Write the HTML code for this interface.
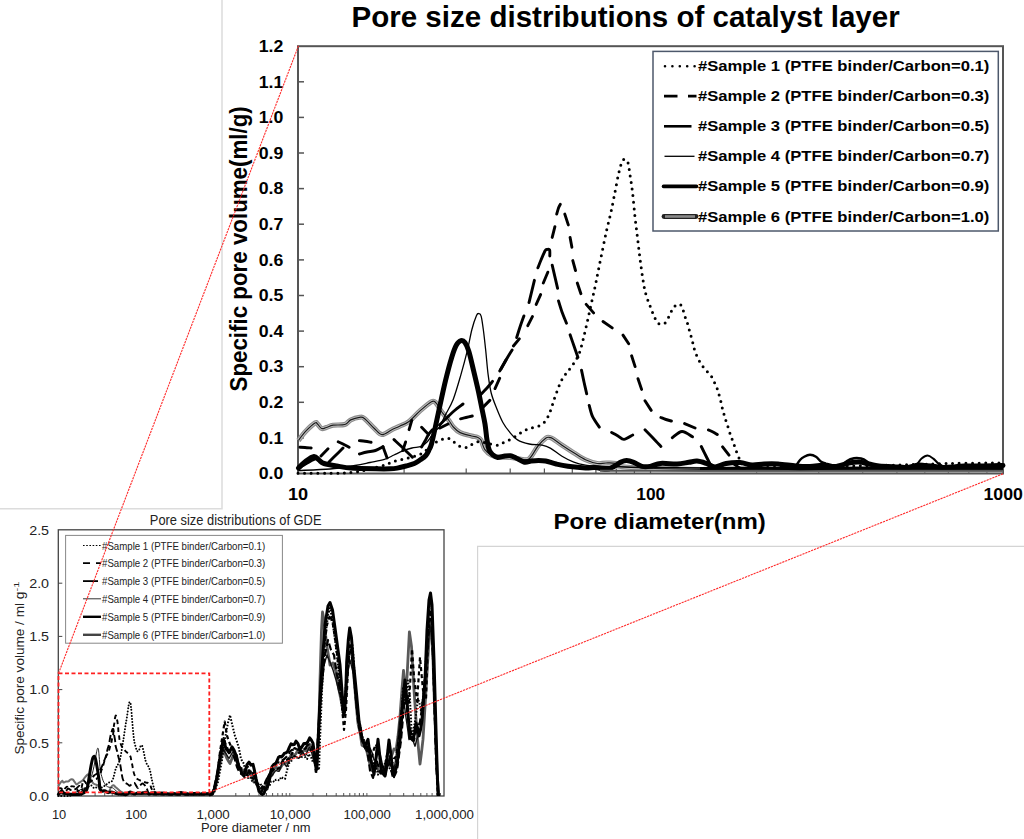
<!DOCTYPE html>
<html><head><meta charset="utf-8"><style>
html,body{margin:0;padding:0;background:#fff;}
svg{display:block;font-family:"Liberation Sans", sans-serif;}
</style></head><body>
<svg width="1024" height="839" viewBox="0 0 1024 839">
<rect width="1024" height="839" fill="#fff"/>
<path d="M222 0 V508.7 H0" stroke="#dcdcdc" stroke-width="1.5" fill="none"/>
<path d="M477.6 839 V546.4 H1024" stroke="#d4d4d4" stroke-width="1.2" fill="none"/>
<text x="351.5" y="26.6" font-size="29.5" font-weight="bold" textLength="548.2" lengthAdjust="spacingAndGlyphs" id="t_title">Pore size distributions of catalyst layer</text>
<rect x="298" y="46.2" width="705" height="427.3" fill="none" stroke="#555" stroke-width="2"/>
<text x="258.7" y="479.2" font-size="16.5" font-weight="bold" textLength="24.6" lengthAdjust="spacingAndGlyphs" >0.0</text>
<path d="M298 437.9 h6" stroke="#555" stroke-width="1.5"/>
<text x="258.7" y="443.6" font-size="16.5" font-weight="bold" textLength="24.6" lengthAdjust="spacingAndGlyphs" >0.1</text>
<path d="M298 402.3 h6" stroke="#555" stroke-width="1.5"/>
<text x="258.7" y="408.0" font-size="16.5" font-weight="bold" textLength="24.6" lengthAdjust="spacingAndGlyphs" >0.2</text>
<path d="M298 366.7 h6" stroke="#555" stroke-width="1.5"/>
<text x="258.7" y="372.4" font-size="16.5" font-weight="bold" textLength="24.6" lengthAdjust="spacingAndGlyphs" >0.3</text>
<path d="M298 331.1 h6" stroke="#555" stroke-width="1.5"/>
<text x="258.7" y="336.8" font-size="16.5" font-weight="bold" textLength="24.6" lengthAdjust="spacingAndGlyphs" >0.4</text>
<path d="M298 295.5 h6" stroke="#555" stroke-width="1.5"/>
<text x="258.7" y="301.2" font-size="16.5" font-weight="bold" textLength="24.6" lengthAdjust="spacingAndGlyphs" >0.5</text>
<path d="M298 259.9 h6" stroke="#555" stroke-width="1.5"/>
<text x="258.7" y="265.6" font-size="16.5" font-weight="bold" textLength="24.6" lengthAdjust="spacingAndGlyphs" >0.6</text>
<path d="M298 224.2 h6" stroke="#555" stroke-width="1.5"/>
<text x="258.7" y="229.9" font-size="16.5" font-weight="bold" textLength="24.6" lengthAdjust="spacingAndGlyphs" >0.7</text>
<path d="M298 188.6 h6" stroke="#555" stroke-width="1.5"/>
<text x="258.7" y="194.3" font-size="16.5" font-weight="bold" textLength="24.6" lengthAdjust="spacingAndGlyphs" >0.8</text>
<path d="M298 153.0 h6" stroke="#555" stroke-width="1.5"/>
<text x="258.7" y="158.7" font-size="16.5" font-weight="bold" textLength="24.6" lengthAdjust="spacingAndGlyphs" >0.9</text>
<path d="M298 117.4 h6" stroke="#555" stroke-width="1.5"/>
<text x="258.7" y="123.1" font-size="16.5" font-weight="bold" textLength="24.6" lengthAdjust="spacingAndGlyphs" >1.0</text>
<path d="M298 81.8 h6" stroke="#555" stroke-width="1.5"/>
<text x="258.7" y="87.5" font-size="16.5" font-weight="bold" textLength="24.6" lengthAdjust="spacingAndGlyphs" >1.1</text>
<text x="258.7" y="51.9" font-size="16.5" font-weight="bold" textLength="24.6" lengthAdjust="spacingAndGlyphs" >1.2</text>
<path d="M404.1 473.5 v-5" stroke="#555" stroke-width="1.2"/>
<path d="M466.2 473.5 v-5" stroke="#555" stroke-width="1.2"/>
<path d="M510.2 473.5 v-5" stroke="#555" stroke-width="1.2"/>
<path d="M544.4 473.5 v-5" stroke="#555" stroke-width="1.2"/>
<path d="M572.3 473.5 v-5" stroke="#555" stroke-width="1.2"/>
<path d="M595.9 473.5 v-5" stroke="#555" stroke-width="1.2"/>
<path d="M616.3 473.5 v-5" stroke="#555" stroke-width="1.2"/>
<path d="M634.4 473.5 v-5" stroke="#555" stroke-width="1.2"/>
<path d="M650.5 473.5 v-5" stroke="#555" stroke-width="1.2"/>
<path d="M756.6 473.5 v-5" stroke="#555" stroke-width="1.2"/>
<path d="M818.7 473.5 v-5" stroke="#555" stroke-width="1.2"/>
<path d="M862.7 473.5 v-5" stroke="#555" stroke-width="1.2"/>
<path d="M896.9 473.5 v-5" stroke="#555" stroke-width="1.2"/>
<path d="M924.8 473.5 v-5" stroke="#555" stroke-width="1.2"/>
<path d="M948.4 473.5 v-5" stroke="#555" stroke-width="1.2"/>
<path d="M968.8 473.5 v-5" stroke="#555" stroke-width="1.2"/>
<path d="M986.9 473.5 v-5" stroke="#555" stroke-width="1.2"/>
<text x="288.0" y="499.6" font-size="16.5" font-weight="bold" textLength="20.2" lengthAdjust="spacingAndGlyphs" >10</text>
<text x="636.3" y="499.6" font-size="16.5" font-weight="bold" textLength="28.9" lengthAdjust="spacingAndGlyphs" >100</text>
<text x="983.5" y="499.6" font-size="16.5" font-weight="bold" textLength="39.4" lengthAdjust="spacingAndGlyphs" >1000</text>
<text x="553.5" y="529.4" font-size="22.7" font-weight="bold" textLength="212.3" lengthAdjust="spacingAndGlyphs" id="t_xl">Pore diameter(nm)</text>
<g transform="translate(247.4 0) rotate(-90)"><text x="-391.5" y="0.0" font-size="24.0" font-weight="bold" textLength="285.3" lengthAdjust="spacingAndGlyphs" id="t_yl">Specific pore volume(ml/g)</text></g>
<path d="M298.40 440.50 C299.63 438.95 303.03 434.12 305.80 431.20 C308.57 428.28 313.05 424.20 315.00 423.00 C316.95 421.80 316.40 423.08 317.50 424.00 C318.60 424.92 320.13 427.92 321.60 428.50 C323.07 429.08 324.38 428.05 326.30 427.50 C328.22 426.95 330.02 425.70 333.10 425.20 C336.18 424.70 341.87 425.38 344.80 424.50 C347.73 423.62 348.25 421.10 350.70 419.90 C353.15 418.70 357.22 417.55 359.50 417.30 C361.78 417.05 361.97 416.58 364.40 418.40 C366.83 420.22 371.18 425.50 374.10 428.20 C377.02 430.90 379.02 434.30 381.90 434.60 C384.78 434.90 388.38 431.43 391.40 430.00 C394.42 428.57 397.13 427.37 400.00 426.00 C402.87 424.63 405.27 424.32 408.60 421.80 C411.93 419.28 416.18 414.25 420.00 410.90 C423.82 407.55 428.83 403.03 431.50 401.70 C434.17 400.37 434.28 401.18 436.00 402.90 C437.72 404.62 439.70 409.15 441.80 412.00 C443.90 414.85 446.68 417.50 448.60 420.00 C450.52 422.50 451.38 424.90 453.30 427.00 C455.22 429.10 457.07 431.10 460.10 432.60 C463.13 434.10 468.63 435.23 471.50 436.00 C474.37 436.77 475.72 436.53 477.30 437.20 C478.88 437.87 479.77 437.98 481.00 440.00 C482.23 442.02 482.92 446.77 484.70 449.30 C486.48 451.83 489.15 453.92 491.70 455.20 C494.25 456.48 496.78 456.62 500.00 457.00 C503.22 457.38 507.67 457.17 511.00 457.50 C514.33 457.83 516.97 458.80 520.00 459.00 C523.03 459.20 526.20 460.87 529.20 458.70 C532.20 456.53 535.20 449.45 538.00 446.00 C540.80 442.55 544.00 439.40 546.00 438.00 C548.00 436.60 548.83 437.47 550.00 437.60 C551.17 437.73 551.00 437.53 553.00 438.80 C555.00 440.07 558.53 442.87 562.00 445.20 C565.47 447.53 569.88 450.37 573.80 452.80 C577.72 455.23 581.60 458.02 585.50 459.80 C589.40 461.58 593.78 462.97 597.20 463.50 C600.62 464.03 602.87 463.02 606.00 463.00 C609.13 462.98 612.83 462.73 616.00 463.40 C619.17 464.07 611.00 465.98 625.00 467.00 C639.00 468.02 670.83 469.00 700.00 469.50 C729.17 470.00 749.50 469.92 800.00 470.00 C850.50 470.08 969.17 470.00 1003.00 470.00" stroke="#8c8c8c" stroke-width="5.0" fill="none" stroke-linejoin="round"/>
<path d="M298.40 440.50 C299.63 438.95 303.03 434.12 305.80 431.20 C308.57 428.28 313.05 424.20 315.00 423.00 C316.95 421.80 316.40 423.08 317.50 424.00 C318.60 424.92 320.13 427.92 321.60 428.50 C323.07 429.08 324.38 428.05 326.30 427.50 C328.22 426.95 330.02 425.70 333.10 425.20 C336.18 424.70 341.87 425.38 344.80 424.50 C347.73 423.62 348.25 421.10 350.70 419.90 C353.15 418.70 357.22 417.55 359.50 417.30 C361.78 417.05 361.97 416.58 364.40 418.40 C366.83 420.22 371.18 425.50 374.10 428.20 C377.02 430.90 379.02 434.30 381.90 434.60 C384.78 434.90 388.38 431.43 391.40 430.00 C394.42 428.57 397.13 427.37 400.00 426.00 C402.87 424.63 405.27 424.32 408.60 421.80 C411.93 419.28 416.18 414.25 420.00 410.90 C423.82 407.55 428.83 403.03 431.50 401.70 C434.17 400.37 434.28 401.18 436.00 402.90 C437.72 404.62 439.70 409.15 441.80 412.00 C443.90 414.85 446.68 417.50 448.60 420.00 C450.52 422.50 451.38 424.90 453.30 427.00 C455.22 429.10 457.07 431.10 460.10 432.60 C463.13 434.10 468.63 435.23 471.50 436.00 C474.37 436.77 475.72 436.53 477.30 437.20 C478.88 437.87 479.77 437.98 481.00 440.00 C482.23 442.02 482.92 446.77 484.70 449.30 C486.48 451.83 489.15 453.92 491.70 455.20 C494.25 456.48 496.78 456.62 500.00 457.00 C503.22 457.38 507.67 457.17 511.00 457.50 C514.33 457.83 516.97 458.80 520.00 459.00 C523.03 459.20 526.20 460.87 529.20 458.70 C532.20 456.53 535.20 449.45 538.00 446.00 C540.80 442.55 544.00 439.40 546.00 438.00 C548.00 436.60 548.83 437.47 550.00 437.60 C551.17 437.73 551.00 437.53 553.00 438.80 C555.00 440.07 558.53 442.87 562.00 445.20 C565.47 447.53 569.88 450.37 573.80 452.80 C577.72 455.23 581.60 458.02 585.50 459.80 C589.40 461.58 593.78 462.97 597.20 463.50 C600.62 464.03 602.87 463.02 606.00 463.00 C609.13 462.98 612.83 462.73 616.00 463.40 C619.17 464.07 611.00 465.98 625.00 467.00 C639.00 468.02 670.83 469.00 700.00 469.50 C729.17 470.00 749.50 469.92 800.00 470.00 C850.50 470.08 969.17 470.00 1003.00 470.00" stroke="#c4c4c4" stroke-width="2.8" fill="none" stroke-linejoin="round"/>
<path d="M298.40 440.50 C299.63 438.95 303.03 434.12 305.80 431.20 C308.57 428.28 313.05 424.20 315.00 423.00 C316.95 421.80 316.40 423.08 317.50 424.00 C318.60 424.92 320.13 427.92 321.60 428.50 C323.07 429.08 324.38 428.05 326.30 427.50 C328.22 426.95 330.02 425.70 333.10 425.20 C336.18 424.70 341.87 425.38 344.80 424.50 C347.73 423.62 348.25 421.10 350.70 419.90 C353.15 418.70 357.22 417.55 359.50 417.30 C361.78 417.05 361.97 416.58 364.40 418.40 C366.83 420.22 371.18 425.50 374.10 428.20 C377.02 430.90 379.02 434.30 381.90 434.60 C384.78 434.90 388.38 431.43 391.40 430.00 C394.42 428.57 397.13 427.37 400.00 426.00 C402.87 424.63 405.27 424.32 408.60 421.80 C411.93 419.28 416.18 414.25 420.00 410.90 C423.82 407.55 428.83 403.03 431.50 401.70 C434.17 400.37 434.28 401.18 436.00 402.90 C437.72 404.62 439.70 409.15 441.80 412.00 C443.90 414.85 446.68 417.50 448.60 420.00 C450.52 422.50 451.38 424.90 453.30 427.00 C455.22 429.10 457.07 431.10 460.10 432.60 C463.13 434.10 468.63 435.23 471.50 436.00 C474.37 436.77 475.72 436.53 477.30 437.20 C478.88 437.87 479.77 437.98 481.00 440.00 C482.23 442.02 482.92 446.77 484.70 449.30 C486.48 451.83 489.15 453.92 491.70 455.20 C494.25 456.48 496.78 456.62 500.00 457.00 C503.22 457.38 507.67 457.17 511.00 457.50 C514.33 457.83 516.97 458.80 520.00 459.00 C523.03 459.20 526.20 460.87 529.20 458.70 C532.20 456.53 535.20 449.45 538.00 446.00 C540.80 442.55 544.00 439.40 546.00 438.00 C548.00 436.60 548.83 437.47 550.00 437.60 C551.17 437.73 551.00 437.53 553.00 438.80 C555.00 440.07 558.53 442.87 562.00 445.20 C565.47 447.53 569.88 450.37 573.80 452.80 C577.72 455.23 581.60 458.02 585.50 459.80 C589.40 461.58 593.78 462.97 597.20 463.50 C600.62 464.03 602.87 463.02 606.00 463.00 C609.13 462.98 612.83 462.73 616.00 463.40 C619.17 464.07 611.00 465.98 625.00 467.00 C639.00 468.02 670.83 469.00 700.00 469.50 C729.17 470.00 749.50 469.92 800.00 470.00 C850.50 470.08 969.17 470.00 1003.00 470.00" stroke="#1a1a1a" stroke-width="1.2" fill="none" stroke-linejoin="round"/>
<path d="M298.60 470.50 C303.83 470.25 320.60 469.83 330.00 469.00 C339.40 468.17 348.33 466.58 355.00 465.50 C361.67 464.42 365.10 463.52 370.00 462.50 C374.90 461.48 380.40 460.65 384.40 459.40 C388.40 458.15 390.92 456.42 394.00 455.00 C397.08 453.58 399.90 452.07 402.90 450.90 C405.90 449.73 408.95 448.75 412.00 448.00 C415.05 447.25 418.70 447.40 421.20 446.40 C423.70 445.40 425.28 443.73 427.00 442.00 C428.72 440.27 430.00 438.00 431.50 436.00 C433.00 434.00 434.70 431.48 436.00 430.00 C437.30 428.52 437.72 429.65 439.30 427.10 C440.88 424.55 443.17 419.35 445.50 414.70 C447.83 410.05 450.72 405.92 453.30 399.20 C455.88 392.48 458.68 382.40 461.00 374.40 C463.32 366.40 465.38 358.68 467.20 351.20 C469.02 343.72 470.35 335.45 471.90 329.50 C473.45 323.55 475.35 318.15 476.50 315.50 C477.65 312.85 478.02 313.47 478.80 313.60 C479.58 313.73 480.42 313.40 481.20 316.30 C481.98 319.20 482.73 325.18 483.50 331.00 C484.27 336.82 485.03 343.97 485.80 351.20 C486.57 358.43 487.20 367.43 488.10 374.40 C489.00 381.37 489.77 387.32 491.20 393.00 C492.63 398.68 494.75 403.58 496.70 408.50 C498.65 413.42 500.80 418.63 502.90 422.50 C505.00 426.37 506.87 428.80 509.30 431.70 C511.73 434.60 514.18 437.85 517.50 439.90 C520.82 441.95 525.10 443.12 529.20 444.00 C533.30 444.88 538.58 444.52 542.10 445.20 C545.62 445.88 546.98 446.25 550.30 448.10 C553.62 449.95 558.08 453.95 562.00 456.30 C565.92 458.65 569.88 460.73 573.80 462.20 C577.72 463.67 581.13 464.42 585.50 465.10 C589.87 465.78 589.25 465.90 600.00 466.30 C610.75 466.70 633.33 467.22 650.00 467.50 C666.67 467.78 683.33 467.75 700.00 468.00 C716.67 468.25 699.50 468.83 750.00 469.00 C800.50 469.17 960.83 469.00 1003.00 469.00" stroke="#000" stroke-width="1.3" fill="none" stroke-linejoin="round"/>
<path d="M298.50 468.00 C299.42 467.50 302.08 466.08 304.00 465.00 C305.92 463.92 308.17 462.50 310.00 461.50 C311.83 460.50 314.17 459.42 315.00 459.00 M329.00 462.00 C330.17 460.83 333.67 457.33 336.00 455.00 C338.33 452.67 341.83 449.17 343.00 448.00 M359.40 454.00 C360.67 453.67 364.32 452.58 367.00 452.00 C369.68 451.42 372.83 451.38 375.50 450.50 C378.17 449.62 381.75 447.33 383.00 446.70 M394.00 439.60 C395.50 441.00 399.93 445.05 403.00 448.00 C406.07 450.95 410.83 455.75 412.40 457.30 M421.60 447.00 C422.17 446.00 423.83 443.10 425.00 441.00 C426.17 438.90 427.35 436.28 428.60 434.40 C429.85 432.52 431.85 430.48 432.50 429.70 M439.50 425.00 C440.55 423.97 443.38 421.13 445.80 418.80 C448.22 416.47 451.13 413.47 454.00 411.00 C456.87 408.53 461.50 405.17 463.00 404.00 M480.00 395.20 C481.17 394.00 484.92 390.30 487.00 388.00 C489.08 385.70 491.58 382.50 492.50 381.40 M499.70 371.00 C500.75 369.17 503.93 363.50 506.00 360.00 C508.07 356.50 511.08 351.67 512.10 350.00 M516.70 337.50 C517.25 335.75 518.80 330.60 520.00 327.00 C521.20 323.40 523.25 317.75 523.90 315.90 M529.0 302.6 L534.4 280.3 M537.90 267.80 C538.42 266.50 539.80 262.83 541.00 260.00 C542.20 257.17 544.10 252.55 545.10 250.80 C546.10 249.05 546.25 249.65 547.00 249.50 C547.75 249.35 549.13 248.82 549.60 249.90 C550.07 250.98 549.77 254.98 549.80 256.00 M552.2 265.1 L557.6 288.3 M558.50 300.90 C559.08 302.75 560.67 308.28 562.00 312.00 C563.33 315.72 565.75 321.33 566.50 323.20 M570.10 334.80 C570.75 336.67 572.70 342.25 574.00 346.00 C575.30 349.75 577.25 355.42 577.90 357.30 M581.50 370.10 C581.92 372.08 583.13 378.05 584.00 382.00 C584.87 385.95 586.25 391.83 586.70 393.80 M589.20 405.40 C589.77 407.28 590.92 413.08 592.60 416.70 C594.28 420.32 598.18 425.37 599.30 427.10 M611.60 432.40 C612.67 433.00 615.93 434.83 618.00 436.00 C620.07 437.17 621.55 439.57 624.00 439.40 C626.45 439.23 631.25 435.73 632.70 435.00 M645.00 429.80 C646.33 431.17 650.35 435.22 653.00 438.00 C655.65 440.78 659.58 445.08 660.90 446.50 M672.30 437.70 C673.92 436.67 678.63 431.65 682.00 431.50 C685.37 431.35 690.75 435.92 692.50 436.80 M701.30 446.50 C702.08 448.08 704.38 452.78 706.00 456.00 C707.62 459.22 710.17 464.17 711.00 465.80" stroke="#000" stroke-width="2.9" fill="none" stroke-linecap="round" stroke-linejoin="round"/>
<path d="M299.90 447.30 C300.75 447.33 303.12 447.38 305.00 447.50 C306.88 447.62 310.17 447.92 311.20 448.00 M321.0 455.9 L328.0 448.8 M338.20 441.80 C339.00 442.17 341.18 443.08 343.00 444.00 C344.82 444.92 348.08 446.75 349.10 447.30 M359.40 440.60 C360.33 440.72 363.05 441.02 365.00 441.30 C366.95 441.58 370.08 442.13 371.10 442.30 M383.0 446.7 L387.1 458.0 M402.8 450.5 L405.6 442.0 M409.1 429.7 L411.8 420.3 M421.6 427.3 L428.6 434.4 M440.0 428.0 L448.0 424.0 M460.60 418.80 C461.50 418.58 464.05 417.97 466.00 417.50 C467.95 417.03 471.25 416.25 472.30 416.00 M482.6 407.6 L489.8 400.4 M495.0 388.6 L499.7 378.2 M501.0 369.0 L506.0 360.0 M513.4 346.0 L519.3 338.8 M527.8 325.7 L532.4 316.6 M536.2 304.4 L540.6 294.6 M543.3 283.0 L547.8 272.2 M552.2 237.4 L554.9 226.7 M556.70 214.10 C557.00 213.08 557.90 209.63 558.50 208.00 C559.10 206.37 560.00 204.92 560.30 204.30 M564.8 214.1 L568.3 224.9 M570.1 237.4 L571.9 247.2 M572.8 260.6 L575.5 270.5 M577.3 283.0 L580.9 293.7 M586.2 304.4 L593.6 312.9 M603.0 321.5 L612.2 327.9 M623.0 335.1 L628.7 343.7 M631.6 355.8 L635.1 366.6 M638.0 378.7 L641.6 389.4 M645.0 400.8 L651.2 410.4 M660.90 417.50 C661.75 417.83 664.25 418.92 666.00 419.50 C667.75 420.08 670.50 420.75 671.40 421.00 M684.6 423.6 L695.1 428.0 M708.40 429.90 C709.17 430.25 711.52 431.22 713.00 432.00 C714.48 432.78 716.58 434.17 717.30 434.60 M722.6 446.9 L729.0 455.1 M734.00 464.00 C735.00 464.67 738.17 467.25 740.00 468.00 C741.83 468.75 744.17 468.42 745.00 468.50" stroke="#000" stroke-width="2.9" fill="none" stroke-linecap="round" stroke-linejoin="round"/>
<path d="M298.00 473.30 C303.33 473.30 321.00 473.43 330.00 473.30 C339.00 473.17 346.00 473.05 352.00 472.50 C358.00 471.95 362.00 470.83 366.00 470.00 C370.00 469.17 372.83 468.33 376.00 467.50 C379.17 466.67 382.45 465.83 385.00 465.00 C387.55 464.17 389.13 463.28 391.30 462.50 C393.47 461.72 395.68 460.92 398.00 460.30 C400.32 459.68 402.87 459.40 405.20 458.80 C407.53 458.20 409.70 457.33 412.00 456.70 C414.30 456.07 416.90 455.87 419.00 455.00 C421.10 454.13 422.77 452.83 424.60 451.50 C426.43 450.17 428.28 448.43 430.00 447.00 C431.72 445.57 432.93 444.15 434.90 442.90 C436.87 441.65 439.52 440.25 441.80 439.50 C444.08 438.75 446.50 437.92 448.60 438.40 C450.70 438.88 452.48 441.07 454.40 442.40 C456.32 443.73 458.00 445.55 460.10 446.40 C462.20 447.25 464.90 447.88 467.00 447.50 C469.10 447.12 470.53 445.10 472.70 444.10 C474.87 443.10 477.45 441.60 480.00 441.50 C482.55 441.40 485.07 442.88 488.00 443.50 C490.93 444.12 494.93 445.40 497.60 445.20 C500.27 445.00 501.85 443.28 504.00 442.30 C506.15 441.32 508.45 440.38 510.50 439.30 C512.55 438.22 514.37 437.00 516.30 435.80 C518.23 434.60 520.10 433.27 522.10 432.10 C524.10 430.93 526.15 429.63 528.30 428.80 C530.45 427.97 532.77 427.80 535.00 427.10 C537.23 426.40 539.82 425.80 541.70 424.60 C543.58 423.40 545.05 421.70 546.30 419.90 C547.55 418.10 548.33 415.78 549.20 413.80 C550.07 411.82 550.78 410.12 551.50 408.00 C552.22 405.88 552.80 403.27 553.50 401.10 C554.20 398.93 554.95 397.05 555.70 395.00 C556.45 392.95 557.20 390.88 558.00 388.80 C558.80 386.72 559.53 384.55 560.50 382.50 C561.47 380.45 562.55 378.37 563.80 376.50 C565.05 374.63 566.30 373.55 568.00 371.30 C569.70 369.05 572.17 365.88 574.00 363.00 C575.83 360.12 577.50 357.83 579.00 354.00 C580.50 350.17 581.67 345.17 583.00 340.00 C584.33 334.83 585.67 328.83 587.00 323.00 C588.33 317.17 589.67 311.00 591.00 305.00 C592.33 299.00 593.77 292.83 595.00 287.00 C596.23 281.17 597.15 276.17 598.40 270.00 C599.65 263.83 601.12 256.67 602.50 250.00 C603.88 243.33 605.28 236.33 606.70 230.00 C608.12 223.67 609.62 218.33 611.00 212.00 C612.38 205.67 613.67 198.67 615.00 192.00 C616.33 185.33 617.67 177.33 619.00 172.00 C620.33 166.67 621.57 161.72 623.00 160.00 C624.43 158.28 626.43 159.20 627.60 161.70 C628.77 164.20 629.17 169.78 630.00 175.00 C630.83 180.22 631.77 186.00 632.60 193.00 C633.43 200.00 634.17 209.42 635.00 217.00 C635.83 224.58 636.77 231.58 637.60 238.50 C638.43 245.42 639.10 251.58 640.00 258.50 C640.90 265.42 642.05 274.15 643.00 280.00 C643.95 285.85 644.53 289.30 645.70 293.60 C646.87 297.90 648.45 301.68 650.00 305.80 C651.55 309.92 653.57 315.33 655.00 318.30 C656.43 321.27 657.05 322.72 658.60 323.60 C660.15 324.48 662.73 324.48 664.30 323.60 C665.87 322.72 666.88 320.23 668.00 318.30 C669.12 316.37 669.95 313.97 671.00 312.00 C672.05 310.03 672.83 307.83 674.30 306.50 C675.77 305.17 678.35 303.42 679.80 304.00 C681.25 304.58 682.13 307.92 683.00 310.00 C683.87 312.08 684.30 314.42 685.00 316.50 C685.70 318.58 686.53 320.42 687.20 322.50 C687.87 324.58 688.40 326.85 689.00 329.00 C689.60 331.15 690.22 333.32 690.80 335.40 C691.38 337.48 691.97 339.40 692.50 341.50 C693.03 343.60 693.38 345.85 694.00 348.00 C694.62 350.15 695.37 352.33 696.20 354.40 C697.03 356.47 697.92 358.42 699.00 360.40 C700.08 362.38 701.37 364.48 702.70 366.30 C704.03 368.12 705.53 369.58 707.00 371.30 C708.47 373.02 710.27 374.77 711.50 376.60 C712.73 378.43 713.43 380.23 714.40 382.30 C715.37 384.37 716.52 386.88 717.30 389.00 C718.08 391.12 718.52 392.97 719.10 395.00 C719.68 397.03 720.27 399.03 720.80 401.20 C721.33 403.37 721.77 405.82 722.30 408.00 C722.83 410.18 723.38 412.13 724.00 414.30 C724.62 416.47 725.33 418.88 726.00 421.00 C726.67 423.12 727.33 424.93 728.00 427.00 C728.67 429.07 729.30 431.30 730.00 433.40 C730.70 435.50 731.45 437.50 732.20 439.60 C732.95 441.70 733.77 443.93 734.50 446.00 C735.23 448.07 735.85 450.00 736.60 452.00 C737.35 454.00 738.27 456.17 739.00 458.00 C739.73 459.83 739.17 461.83 741.00 463.00 C742.83 464.17 740.17 464.50 750.00 465.00 C759.83 465.50 783.33 465.83 800.00 466.00 C816.67 466.17 833.33 466.17 850.00 466.00 C866.67 465.83 883.33 465.42 900.00 465.00 C916.67 464.58 932.83 463.83 950.00 463.50 C967.17 463.17 994.17 463.08 1003.00 463.00" stroke="#000" stroke-width="3.0" fill="none" stroke-linecap="round" stroke-linejoin="round" stroke-dasharray="0 6.6"/>
<path d="M298.50 468.00 C299.75 466.83 303.42 462.92 306.00 461.00 C308.58 459.08 311.83 456.67 314.00 456.50 C316.17 456.33 317.33 458.83 319.00 460.00 C320.67 461.17 320.67 462.43 324.00 463.50 C327.33 464.57 334.55 465.65 339.00 466.40 C343.45 467.15 344.53 467.60 350.70 468.00 C356.87 468.40 369.45 468.67 376.00 468.80 C382.55 468.93 386.47 468.92 390.00 468.80 C393.53 468.68 394.53 468.57 397.20 468.10 C399.87 467.63 403.15 466.77 406.00 466.00 C408.85 465.23 411.97 464.50 414.30 463.50 C416.63 462.50 418.08 461.33 420.00 460.00 C421.92 458.67 424.30 457.17 425.80 455.50 C427.30 453.83 428.05 451.92 429.00 450.00 C429.95 448.08 430.55 447.33 431.50 444.00 C432.45 440.67 433.40 435.92 434.70 430.00 C436.00 424.08 437.50 416.73 439.30 408.50 C441.10 400.27 443.43 389.12 445.50 380.60 C447.57 372.08 449.88 363.33 451.70 357.40 C453.52 351.47 454.85 347.80 456.40 345.00 C457.95 342.20 459.58 341.00 461.00 340.60 C462.42 340.20 463.60 340.83 464.90 342.60 C466.20 344.37 467.38 346.67 468.80 351.20 C470.22 355.73 471.85 363.35 473.40 369.80 C474.95 376.25 476.68 383.45 478.10 389.90 C479.52 396.35 480.75 402.82 481.90 408.50 C483.05 414.18 484.15 418.75 485.00 424.00 C485.85 429.25 486.27 435.58 487.00 440.00 C487.73 444.42 488.40 448.00 489.40 450.50 C490.40 453.00 491.63 453.83 493.00 455.00 C494.37 456.17 495.60 457.33 497.60 457.50 C499.60 457.67 502.85 456.30 505.00 456.00 C507.15 455.70 508.80 455.45 510.50 455.70 C512.20 455.95 512.87 456.42 515.20 457.50 C517.53 458.58 521.87 461.62 524.50 462.20 C527.13 462.78 528.65 461.30 531.00 461.00 C533.35 460.70 536.17 460.40 538.60 460.40 C541.03 460.40 542.67 460.40 545.60 461.00 C548.53 461.60 552.48 463.12 556.20 464.00 C559.92 464.88 563.02 465.63 567.90 466.30 C572.78 466.97 580.98 467.80 585.50 468.00 C590.02 468.20 591.47 467.28 595.00 467.50 C598.53 467.72 603.87 469.30 606.70 469.30 C609.53 469.30 610.43 468.18 612.00 467.50 C613.57 466.82 614.60 466.12 616.10 465.20 C617.60 464.28 619.25 462.78 621.00 462.00 C622.75 461.22 624.48 460.45 626.60 460.50 C628.72 460.55 631.15 461.32 633.70 462.30 C636.25 463.28 639.17 465.72 641.90 466.40 C644.63 467.08 646.98 466.90 650.10 466.40 C653.22 465.90 656.12 463.80 660.60 463.40 C665.08 463.00 672.30 464.18 677.00 464.00 C681.70 463.82 685.47 462.78 688.80 462.30 C692.13 461.82 694.08 460.92 697.00 461.10 C699.92 461.28 703.30 462.42 706.30 463.40 C709.30 464.38 711.72 466.98 715.00 467.00 C718.28 467.02 721.83 464.25 726.00 463.50 C730.17 462.75 735.67 462.25 740.00 462.50 C744.33 462.75 748.00 464.75 752.00 465.00 C756.00 465.25 759.67 464.17 764.00 464.00 C768.33 463.83 772.67 463.67 778.00 464.00 C783.33 464.33 790.67 465.58 796.00 466.00 C801.33 466.42 805.17 466.67 810.00 466.50 C814.83 466.33 820.83 465.00 825.00 465.00 C829.17 465.00 831.00 466.83 835.00 466.50 C839.00 466.17 845.00 463.75 849.00 463.00 C853.00 462.25 855.67 461.83 859.00 462.00 C862.33 462.17 865.67 463.33 869.00 464.00 C872.33 464.67 874.17 465.50 879.00 466.00 C883.83 466.50 893.17 466.75 898.00 467.00 C902.83 467.25 904.67 467.83 908.00 467.50 C911.33 467.17 915.17 465.33 918.00 465.00 C920.83 464.67 922.17 465.25 925.00 465.50 C927.83 465.75 931.83 466.17 935.00 466.50 C938.17 466.83 940.83 467.42 944.00 467.50 C947.17 467.58 950.67 467.25 954.00 467.00 C957.33 466.75 959.17 466.17 964.00 466.00 C968.83 465.83 976.50 466.08 983.00 466.00 C989.50 465.92 999.67 465.58 1003.00 465.50" stroke="#000" stroke-width="5.0" fill="none" stroke-linejoin="round" stroke-linecap="round"/>
<path d="M600 470.8 L1003 470.8" stroke="#555" stroke-width="2"/>
<path d="M700 468.5 L760 468 L800 468.8 L860 468 L1003 468.3" stroke="#000" stroke-width="3" fill="none"/>
<path d="M796.00 466.00 C796.67 465.00 798.63 461.55 800.00 460.00 C801.37 458.45 802.53 457.57 804.20 456.70 C805.87 455.83 808.03 454.80 810.00 454.80 C811.97 454.80 814.20 455.57 816.00 456.70 C817.80 457.83 819.18 460.47 820.80 461.60 C822.42 462.73 824.88 463.18 825.70 463.50" stroke="#000" stroke-width="2.4" fill="none"/>
<path d="M912.00 466.00 C912.78 465.73 915.10 465.63 916.70 464.40 C918.30 463.17 919.80 460.07 921.60 458.60 C923.40 457.13 925.55 455.60 927.50 455.60 C929.45 455.60 931.52 457.30 933.30 458.60 C935.08 459.90 936.73 462.27 938.20 463.40 C939.67 464.53 941.45 465.07 942.10 465.40" stroke="#000" stroke-width="2.0" fill="none"/>
<path d="M842.00 466.00 C842.83 465.17 845.00 462.28 847.00 461.00 C849.00 459.72 851.67 458.70 854.00 458.30 C856.33 457.90 858.83 458.07 861.00 458.60 C863.17 459.13 865.17 460.27 867.00 461.50 C868.83 462.73 871.17 465.25 872.00 466.00" stroke="#000" stroke-width="2.6" fill="none"/>
<rect x="653" y="51.4" width="345.3" height="179.6" fill="#fff" stroke="#4d586b" stroke-width="1.5"/>
<text x="697.9" y="71.3" font-size="15.4" font-weight="bold" textLength="291.4" lengthAdjust="spacingAndGlyphs" class="lg">#Sample 1 (PTFE binder/Carbon=0.1)</text>
<text x="697.9" y="101.2" font-size="15.4" font-weight="bold" textLength="291.4" lengthAdjust="spacingAndGlyphs" class="lg">#Sample 2 (PTFE binder/Carbon=0.3)</text>
<text x="697.9" y="131.3" font-size="15.4" font-weight="bold" textLength="291.4" lengthAdjust="spacingAndGlyphs" class="lg">#Sample 3 (PTFE binder/Carbon=0.5)</text>
<text x="697.9" y="161.3" font-size="15.4" font-weight="bold" textLength="291.4" lengthAdjust="spacingAndGlyphs" class="lg">#Sample 4 (PTFE binder/Carbon=0.7)</text>
<text x="697.9" y="191.4" font-size="15.4" font-weight="bold" textLength="291.4" lengthAdjust="spacingAndGlyphs" class="lg">#Sample 5 (PTFE binder/Carbon=0.9)</text>
<text x="697.9" y="221.5" font-size="15.4" font-weight="bold" textLength="291.4" lengthAdjust="spacingAndGlyphs" class="lg">#Sample 6 (PTFE binder/Carbon=1.0)</text>
<path d="M665 66.3 H696" stroke="#000" stroke-width="2.6" stroke-linecap="round" stroke-dasharray="0 7.4"/>
<path d="M664 96.2 H677.5 M688 96.2 H696.5" stroke="#000" stroke-width="2.8"/>
<path d="M664 126.3 H691.5" stroke="#000" stroke-width="2.6"/>
<path d="M664.5 156.3 H694.5" stroke="#000" stroke-width="1.3"/>
<path d="M663.5 186.4 H696.5" stroke="#000" stroke-width="3.6" stroke-linecap="round"/>
<path d="M664 216.5 H696" stroke="#222" stroke-width="4.8" stroke-linecap="round"/><path d="M665 216.5 H695" stroke="#8a8a8a" stroke-width="2.6"/>
<text x="149.8" y="525.2" font-size="14.2" font-weight="normal" textLength="171.7" lengthAdjust="spacingAndGlyphs" id="s_title" fill="#222">Pore size distributions of GDE</text>
<rect x="58.3" y="529.8" width="385.7" height="266.2" fill="none" stroke="#444" stroke-width="1.3"/>
<text x="29.2" y="800.7" font-size="13.5" font-weight="normal" textLength="19.9" lengthAdjust="spacingAndGlyphs" fill="#222">0.0</text>
<path d="M58.3 742.8 h4" stroke="#444" stroke-width="1"/>
<text x="29.2" y="747.5" font-size="13.5" font-weight="normal" textLength="19.9" lengthAdjust="spacingAndGlyphs" fill="#222">0.5</text>
<path d="M58.3 689.6 h4" stroke="#444" stroke-width="1"/>
<text x="29.2" y="694.3" font-size="13.5" font-weight="normal" textLength="19.9" lengthAdjust="spacingAndGlyphs" fill="#222">1.0</text>
<path d="M58.3 636.4 h4" stroke="#444" stroke-width="1"/>
<text x="29.2" y="641.1" font-size="13.5" font-weight="normal" textLength="19.9" lengthAdjust="spacingAndGlyphs" fill="#222">1.5</text>
<path d="M58.3 583.2 h4" stroke="#444" stroke-width="1"/>
<text x="29.2" y="587.9" font-size="13.5" font-weight="normal" textLength="19.9" lengthAdjust="spacingAndGlyphs" fill="#222">2.0</text>
<text x="29.2" y="534.7" font-size="13.5" font-weight="normal" textLength="19.9" lengthAdjust="spacingAndGlyphs" fill="#222">2.5</text>
<path d="M81.5 796 v-3" stroke="#444" stroke-width="0.9"/>
<path d="M95.1 796 v-3" stroke="#444" stroke-width="0.9"/>
<path d="M104.7 796 v-3" stroke="#444" stroke-width="0.9"/>
<path d="M112.2 796 v-3" stroke="#444" stroke-width="0.9"/>
<path d="M118.3 796 v-3" stroke="#444" stroke-width="0.9"/>
<path d="M123.5 796 v-3" stroke="#444" stroke-width="0.9"/>
<path d="M128.0 796 v-3" stroke="#444" stroke-width="0.9"/>
<path d="M131.9 796 v-3" stroke="#444" stroke-width="0.9"/>
<path d="M135.4 796 v-3" stroke="#444" stroke-width="0.9"/>
<path d="M158.7 796 v-3" stroke="#444" stroke-width="0.9"/>
<path d="M172.3 796 v-3" stroke="#444" stroke-width="0.9"/>
<path d="M181.9 796 v-3" stroke="#444" stroke-width="0.9"/>
<path d="M189.4 796 v-3" stroke="#444" stroke-width="0.9"/>
<path d="M195.5 796 v-3" stroke="#444" stroke-width="0.9"/>
<path d="M200.6 796 v-3" stroke="#444" stroke-width="0.9"/>
<path d="M205.1 796 v-3" stroke="#444" stroke-width="0.9"/>
<path d="M209.1 796 v-3" stroke="#444" stroke-width="0.9"/>
<path d="M212.6 796 v-3" stroke="#444" stroke-width="0.9"/>
<path d="M235.8 796 v-3" stroke="#444" stroke-width="0.9"/>
<path d="M249.4 796 v-3" stroke="#444" stroke-width="0.9"/>
<path d="M259.0 796 v-3" stroke="#444" stroke-width="0.9"/>
<path d="M266.5 796 v-3" stroke="#444" stroke-width="0.9"/>
<path d="M272.6 796 v-3" stroke="#444" stroke-width="0.9"/>
<path d="M277.8 796 v-3" stroke="#444" stroke-width="0.9"/>
<path d="M282.3 796 v-3" stroke="#444" stroke-width="0.9"/>
<path d="M286.2 796 v-3" stroke="#444" stroke-width="0.9"/>
<path d="M289.8 796 v-3" stroke="#444" stroke-width="0.9"/>
<path d="M313.0 796 v-3" stroke="#444" stroke-width="0.9"/>
<path d="M326.6 796 v-3" stroke="#444" stroke-width="0.9"/>
<path d="M336.2 796 v-3" stroke="#444" stroke-width="0.9"/>
<path d="M343.7 796 v-3" stroke="#444" stroke-width="0.9"/>
<path d="M349.8 796 v-3" stroke="#444" stroke-width="0.9"/>
<path d="M354.9 796 v-3" stroke="#444" stroke-width="0.9"/>
<path d="M359.4 796 v-3" stroke="#444" stroke-width="0.9"/>
<path d="M363.4 796 v-3" stroke="#444" stroke-width="0.9"/>
<path d="M366.9 796 v-3" stroke="#444" stroke-width="0.9"/>
<path d="M390.1 796 v-3" stroke="#444" stroke-width="0.9"/>
<path d="M403.7 796 v-3" stroke="#444" stroke-width="0.9"/>
<path d="M413.3 796 v-3" stroke="#444" stroke-width="0.9"/>
<path d="M420.8 796 v-3" stroke="#444" stroke-width="0.9"/>
<path d="M426.9 796 v-3" stroke="#444" stroke-width="0.9"/>
<path d="M432.1 796 v-3" stroke="#444" stroke-width="0.9"/>
<path d="M436.6 796 v-3" stroke="#444" stroke-width="0.9"/>
<path d="M440.5 796 v-3" stroke="#444" stroke-width="0.9"/>
<text x="51.9" y="818.5" font-size="13.3" font-weight="normal" textLength="14.3" lengthAdjust="spacingAndGlyphs" fill="#222">10</text>
<text x="125.2" y="818.5" font-size="13.3" font-weight="normal" textLength="22.0" lengthAdjust="spacingAndGlyphs" fill="#222">100</text>
<text x="196.4" y="818.5" font-size="13.3" font-weight="normal" textLength="33.4" lengthAdjust="spacingAndGlyphs" fill="#222">1,000</text>
<text x="269.7" y="818.5" font-size="13.3" font-weight="normal" textLength="40.9" lengthAdjust="spacingAndGlyphs" fill="#222">10,000</text>
<text x="343.5" y="818.5" font-size="13.3" font-weight="normal" textLength="47.3" lengthAdjust="spacingAndGlyphs" fill="#222">100,000</text>
<text x="415.0" y="818.5" font-size="13.3" font-weight="normal" textLength="59.0" lengthAdjust="spacingAndGlyphs" fill="#222">1,000,000</text>
<text x="200.9" y="832.2" font-size="13.3" font-weight="normal" textLength="109.7" lengthAdjust="spacingAndGlyphs" fill="#222" id="s_xl">Pore diameter / nm</text>
<g transform="translate(23.8 0) rotate(-90)"><text x="-754.6" y="0.0" font-size="13.3" font-weight="normal" textLength="162.9" lengthAdjust="spacingAndGlyphs" fill="#222" id="s_yl">Specific pore volume / ml g</text><text x="-591.5" y="-5.0" font-size="8.0" font-weight="normal" textLength="10.0" lengthAdjust="spacingAndGlyphs" fill="#222">-1</text></g>
<path d="M58.39 786.14 C58.66 785.68 59.40 784.23 60.01 783.36 C60.61 782.49 61.59 781.27 62.02 780.91 C62.45 780.55 62.33 780.94 62.57 781.21 C62.81 781.48 63.14 782.38 63.47 782.55 C63.79 782.73 64.07 782.42 64.49 782.25 C64.91 782.09 65.31 781.72 65.98 781.57 C66.66 781.42 67.90 781.62 68.54 781.36 C69.18 781.09 69.30 780.34 69.83 779.98 C70.37 779.63 71.26 779.28 71.76 779.21 C72.26 779.13 72.30 778.99 72.83 779.54 C73.37 780.08 74.32 781.66 74.96 782.46 C75.59 783.27 76.03 784.29 76.66 784.38 C77.29 784.47 78.08 783.43 78.74 783.00 C79.40 782.57 80.00 782.22 80.62 781.81 C81.25 781.40 81.78 781.30 82.51 780.55 C83.24 779.80 84.17 778.30 85.00 777.29 C85.84 776.29 86.93 774.94 87.52 774.55 C88.10 774.15 88.13 774.39 88.50 774.90 C88.88 775.42 89.31 776.77 89.77 777.62 C90.23 778.48 90.84 779.27 91.26 780.01 C91.68 780.76 91.87 781.48 92.29 782.11 C92.71 782.73 93.11 783.33 93.78 783.78 C94.44 784.23 95.65 784.57 96.27 784.79 C96.90 785.02 97.20 784.95 97.54 785.15 C97.89 785.35 98.08 785.39 98.35 785.99 C98.62 786.59 98.77 788.01 99.16 788.77 C99.55 789.53 100.14 790.15 100.69 790.53 C101.25 790.92 101.81 790.96 102.51 791.07 C103.21 791.18 104.19 791.12 104.92 791.22 C105.65 791.32 106.22 791.61 106.89 791.67 C107.55 791.73 108.25 792.23 108.90 791.58 C109.56 790.93 110.21 788.81 110.83 787.78 C111.44 786.75 112.14 785.81 112.58 785.39 C113.02 784.97 113.20 785.23 113.45 785.27 C113.71 785.31 113.67 785.25 114.11 785.63 C114.55 786.01 115.32 786.85 116.08 787.54 C116.84 788.24 117.81 789.09 118.66 789.81 C119.52 790.54 120.37 791.37 121.22 791.91 C122.08 792.44 123.04 792.85 123.78 793.01 C124.53 793.17 125.02 792.87 125.71 792.86 C126.40 792.86 127.21 792.78 127.90 792.98 C128.59 793.18 126.80 793.75 129.87 794.06 C132.93 794.36 139.90 794.66 146.28 794.80 C152.67 794.95 157.12 794.93 168.17 794.95 C179.22 794.98 205.20 794.95 212.60 794.95" stroke="#6e6e6e" stroke-width="2.0" fill="none" stroke-linejoin="round"/>
<path d="M58.43 795.10 C59.58 795.03 63.25 794.90 65.30 794.66 C67.36 794.41 69.32 793.93 70.78 793.61 C72.23 793.29 72.99 793.02 74.06 792.71 C75.13 792.41 76.33 792.16 77.21 791.79 C78.09 791.41 78.64 790.90 79.31 790.47 C79.99 790.05 80.60 789.60 81.26 789.25 C81.92 788.90 82.58 788.60 83.25 788.38 C83.92 788.16 84.72 788.20 85.26 787.90 C85.81 787.60 86.16 787.11 86.53 786.59 C86.91 786.07 87.19 785.39 87.52 784.79 C87.85 784.20 88.22 783.45 88.50 783.00 C88.79 782.56 88.88 782.90 89.23 782.14 C89.57 781.37 90.07 779.82 90.58 778.43 C91.09 777.04 91.72 775.81 92.29 773.80 C92.86 771.79 93.47 768.78 93.98 766.39 C94.48 764.00 94.93 761.69 95.33 759.46 C95.73 757.22 96.02 754.75 96.36 752.97 C96.70 751.19 97.12 749.58 97.37 748.79 C97.62 748.00 97.70 748.18 97.87 748.22 C98.04 748.26 98.22 748.16 98.40 749.03 C98.57 749.89 98.73 751.68 98.90 753.42 C99.07 755.16 99.24 757.29 99.40 759.46 C99.57 761.62 99.71 764.31 99.91 766.39 C100.10 768.47 100.27 770.25 100.58 771.95 C100.90 773.64 101.36 775.11 101.79 776.58 C102.22 778.05 102.69 779.61 103.15 780.76 C103.61 781.92 104.01 782.64 104.55 783.51 C105.08 784.38 105.62 785.35 106.34 785.96 C107.07 786.57 108.00 786.92 108.90 787.19 C109.80 787.45 110.96 787.34 111.73 787.54 C112.49 787.75 112.79 787.86 113.52 788.41 C114.25 788.96 115.22 790.16 116.08 790.86 C116.94 791.56 117.81 792.19 118.66 792.62 C119.52 793.06 120.27 793.29 121.22 793.49 C122.18 793.69 122.04 793.73 124.40 793.85 C126.75 793.97 131.69 794.12 135.34 794.21 C138.99 794.29 142.64 794.28 146.28 794.36 C149.93 794.43 146.17 794.61 157.23 794.66 C168.28 794.71 203.37 794.66 212.60 794.66" stroke="#222" stroke-width="1.0" fill="none" stroke-linejoin="round"/>
<path d="M58.30 794.36 C58.52 794.21 59.18 793.76 59.61 793.46 C60.05 793.16 60.42 792.56 60.93 792.56 C61.44 792.56 62.17 793.29 62.68 793.46 C63.19 793.63 63.59 793.76 63.99 793.61 C64.39 793.46 64.65 793.09 65.08 792.56 C65.52 792.04 66.11 791.17 66.62 790.47 C67.13 789.77 67.60 788.53 68.15 788.38 C68.70 788.23 69.30 789.28 69.90 789.58 C70.50 789.87 71.15 790.17 71.74 790.17 C72.32 790.17 72.81 789.75 73.40 789.58 C73.99 789.40 74.68 789.39 75.26 789.13 C75.85 788.86 76.45 788.37 76.90 787.99 C77.36 787.62 77.60 787.24 78.00 786.89 C78.40 786.53 78.76 785.62 79.31 785.87 C79.86 786.12 80.61 787.50 81.28 788.38 C81.95 789.26 82.83 790.96 83.34 791.16 C83.85 791.36 84.01 790.09 84.34 789.58 C84.68 789.06 85.06 788.63 85.35 788.08 C85.64 787.53 85.84 786.92 86.10 786.29 C86.35 785.66 86.61 784.88 86.88 784.32 C87.16 783.75 87.34 783.38 87.74 782.91 C88.13 782.44 88.78 782.05 89.27 781.51 C89.75 780.97 90.12 780.35 90.65 779.66 C91.18 778.96 91.82 778.06 92.44 777.32 C93.07 776.59 93.76 775.78 94.41 775.23 C95.07 774.69 95.76 774.48 96.38 774.04 C97.00 773.59 97.59 773.12 98.13 772.57 C98.68 772.03 99.19 771.43 99.67 770.75 C100.14 770.07 100.48 769.46 100.96 768.51 C101.43 767.56 101.96 766.39 102.51 765.07 C103.06 763.75 103.66 762.17 104.26 760.59 C104.86 759.02 105.68 757.03 106.12 755.63 C106.56 754.24 106.63 753.38 106.89 752.22 C107.15 751.07 107.35 749.91 107.68 748.70 C108.00 747.48 108.46 746.67 108.86 744.93 C109.25 743.20 109.72 740.00 110.04 738.27 C110.36 736.54 110.57 735.55 110.81 734.54 C111.05 733.52 111.22 733.05 111.48 732.20 C111.75 731.36 112.16 729.98 112.38 729.46 C112.60 728.93 112.63 729.11 112.80 729.07 C112.96 729.03 113.24 728.84 113.37 729.22 C113.49 729.59 113.47 730.56 113.56 731.31 C113.66 732.06 113.68 732.17 113.94 733.73 C114.19 735.29 114.89 738.88 115.12 740.66 C115.35 742.44 115.15 743.25 115.31 744.43 C115.47 745.61 115.79 746.63 116.08 747.74 C116.37 748.85 116.77 749.95 117.07 751.09 C117.36 752.22 117.58 753.42 117.85 754.56 C118.13 755.69 118.42 756.78 118.71 757.90 C118.99 759.02 119.29 760.08 119.56 761.28 C119.83 762.48 120.13 763.87 120.35 765.10 C120.57 766.33 120.71 767.48 120.90 768.66 C121.09 769.84 121.30 771.02 121.49 772.19 C121.68 773.35 121.82 774.51 122.03 775.65 C122.25 776.79 122.41 777.95 122.78 779.03 C123.15 780.11 123.79 781.47 124.24 782.14 C124.70 782.80 125.04 782.74 125.49 783.00 C125.94 783.27 126.46 783.42 126.94 783.72 C127.41 784.02 127.88 784.45 128.34 784.79 C128.79 785.14 129.11 785.86 129.65 785.81 C130.19 785.76 130.79 784.97 131.55 784.50 C132.32 784.02 133.51 782.79 134.25 782.94 C134.99 783.09 135.42 784.56 136.00 785.39 C136.58 786.22 137.25 787.78 137.73 787.93 C138.20 788.08 138.43 786.73 138.84 786.29 C139.26 785.85 139.64 785.78 140.22 785.30 C140.80 784.83 141.61 783.49 142.34 783.45 C143.08 783.41 143.94 784.29 144.64 785.03 C145.35 785.78 146.08 786.98 146.57 787.93 C147.06 788.89 147.24 789.81 147.60 790.77 C147.95 791.73 148.18 793.10 148.69 793.70 C149.20 794.30 147.41 794.25 150.66 794.36 C153.91 794.47 157.85 794.36 168.17 794.36 C178.49 794.36 205.20 794.36 212.60 794.36" stroke="#000" stroke-width="1.9" fill="none" stroke-linejoin="round" stroke-dasharray="7 3"/>
<path d="M58.52 788.23 C58.74 788.24 59.39 788.24 59.83 788.26 C60.27 788.29 60.74 788.16 61.15 788.38 C61.55 788.60 61.87 789.18 62.24 789.58 C62.60 789.97 62.90 790.92 63.33 790.77 C63.77 790.62 64.43 789.23 64.87 788.68 C65.30 788.13 65.60 787.83 65.96 787.48 C66.33 787.14 66.69 786.64 67.05 786.59 C67.42 786.54 67.75 786.94 68.15 787.19 C68.55 787.43 69.06 788.13 69.46 788.08 C69.86 788.03 70.18 787.21 70.56 786.89 C70.94 786.57 71.34 786.24 71.74 786.17 C72.14 786.09 72.54 786.35 72.96 786.44 C73.39 786.52 73.86 786.53 74.30 786.68 C74.74 786.83 75.16 787.10 75.59 787.33 C76.02 787.57 76.54 787.41 76.90 788.08 C77.27 788.75 77.34 790.97 77.78 791.37 C78.22 791.77 78.95 790.85 79.53 790.47 C80.11 790.10 80.85 789.77 81.24 789.13 C81.62 788.48 81.62 787.61 81.85 786.59 C82.08 785.57 82.37 784.08 82.59 783.00 C82.82 781.92 82.95 780.45 83.21 780.10 C83.46 779.75 83.77 780.56 84.13 780.91 C84.48 781.26 84.89 781.63 85.35 782.20 C85.81 782.76 86.32 784.18 86.88 784.32 C87.45 784.45 88.01 783.52 88.72 783.00 C89.43 782.48 90.27 781.77 91.13 781.21 C91.99 780.65 93.00 780.05 93.89 779.66 C94.77 779.26 95.81 779.16 96.45 778.82 C97.08 778.48 97.31 778.06 97.70 777.62 C98.09 777.19 98.35 776.81 98.79 776.22 C99.23 775.63 99.91 774.99 100.32 774.07 C100.74 773.14 100.92 771.73 101.29 770.66 C101.65 769.60 102.15 768.80 102.53 767.67 C102.92 766.54 103.17 765.31 103.61 763.88 C104.04 762.45 104.59 760.59 105.14 759.10 C105.68 757.60 106.33 756.11 106.89 754.91 C107.44 753.71 108.04 752.89 108.46 751.90 C108.89 750.90 109.12 750.01 109.45 748.94 C109.78 747.87 110.11 746.54 110.43 745.47 C110.76 744.41 111.14 743.61 111.40 742.54 C111.66 741.48 111.73 740.19 111.99 739.08 C112.25 737.96 112.73 737.24 112.97 735.85 C113.22 734.46 113.29 732.44 113.45 730.71 C113.61 728.98 113.76 726.86 113.94 725.45 C114.11 724.04 114.36 723.41 114.53 722.25 C114.69 721.09 114.72 719.61 114.92 718.49 C115.12 717.37 115.50 715.91 115.71 715.56 C115.92 715.21 116.03 715.88 116.19 716.37 C116.35 716.86 116.48 717.60 116.69 718.49 C116.90 719.38 117.27 720.56 117.46 721.72 C117.65 722.88 117.72 724.34 117.85 725.45 C117.98 726.56 118.15 727.22 118.25 728.38 C118.35 729.54 118.31 731.22 118.44 732.38 C118.58 733.54 118.87 734.23 119.04 735.34 C119.20 736.46 119.23 737.92 119.43 739.08 C119.63 740.23 119.89 741.21 120.22 742.27 C120.54 743.34 120.92 744.51 121.38 745.47 C121.84 746.43 122.36 747.19 122.97 748.04 C123.59 748.89 124.37 749.84 125.05 750.58 C125.74 751.32 126.52 752.02 127.07 752.49 C127.61 752.97 127.94 753.06 128.34 753.42 C128.73 753.78 129.04 754.01 129.43 754.65 C129.82 755.28 130.37 756.18 130.68 757.21 C130.99 758.25 131.08 759.69 131.31 760.83 C131.55 761.97 131.85 762.95 132.08 764.06 C132.31 765.16 132.51 766.37 132.71 767.46 C132.91 768.55 133.03 769.47 133.28 770.60 C133.54 771.74 133.86 773.19 134.25 774.28 C134.63 775.37 135.20 776.49 135.60 777.15 C136.00 777.80 136.30 777.87 136.65 778.22 C137.01 778.57 137.16 778.92 137.73 779.27 C138.29 779.62 139.40 780.09 140.02 780.31 C140.65 780.54 140.99 780.48 141.47 780.61 C141.95 780.74 142.29 780.79 142.91 781.09 C143.54 781.39 144.61 782.14 145.21 782.40 C145.81 782.67 146.02 782.61 146.50 782.70 C146.99 782.80 147.53 782.69 148.12 782.97 C148.72 783.25 149.65 783.87 150.07 784.38 C150.49 784.88 150.47 785.38 150.66 785.99 C150.85 786.60 150.90 787.30 151.23 788.05 C151.56 788.80 152.22 789.65 152.63 790.50 C153.05 791.35 153.32 792.52 153.73 793.16 C154.13 793.80 152.63 794.11 155.04 794.36 C157.45 794.61 158.58 794.61 168.17 794.66 C177.76 794.71 205.20 794.66 212.60 794.66" stroke="#000" stroke-width="1.9" fill="none" stroke-linejoin="round" stroke-dasharray="4.5 3.5"/>
<path d="M58.30 795.94 C59.47 795.94 63.33 795.98 65.30 795.94 C67.27 795.90 68.81 795.87 70.12 795.70 C71.43 795.54 72.31 795.20 73.18 794.95 C74.06 794.71 74.68 794.46 75.37 794.21 C76.06 793.96 76.78 793.71 77.34 793.46 C77.90 793.21 78.25 792.95 78.72 792.71 C79.19 792.48 79.68 792.24 80.19 792.06 C80.69 791.87 81.25 791.79 81.76 791.61 C82.27 791.43 82.75 791.17 83.25 790.98 C83.75 790.79 84.32 790.73 84.78 790.47 C85.24 790.21 85.61 789.82 86.01 789.43 C86.41 789.03 86.81 788.51 87.19 788.08 C87.57 787.65 87.83 787.23 88.26 786.86 C88.69 786.48 89.27 786.06 89.77 785.84 C90.27 785.62 90.80 785.37 91.26 785.51 C91.72 785.66 92.11 786.31 92.53 786.71 C92.95 787.11 93.32 787.65 93.78 787.90 C94.24 788.16 94.83 788.35 95.29 788.23 C95.75 788.12 96.06 787.51 96.54 787.22 C97.01 786.92 97.58 786.47 98.13 786.44 C98.69 786.41 99.24 786.85 99.88 787.04 C100.53 787.22 101.40 787.60 101.99 787.54 C102.57 787.48 102.92 786.97 103.39 786.68 C103.86 786.38 104.36 786.10 104.81 785.78 C105.26 785.46 105.66 785.09 106.08 784.73 C106.50 784.38 106.91 783.98 107.35 783.63 C107.79 783.28 108.23 782.89 108.70 782.64 C109.18 782.39 109.68 782.34 110.17 782.14 C110.66 781.93 111.23 781.75 111.64 781.39 C112.05 781.03 112.37 780.52 112.64 779.98 C112.92 779.45 113.09 778.75 113.28 778.16 C113.47 777.57 113.63 777.06 113.78 776.43 C113.94 775.80 114.07 775.01 114.22 774.37 C114.37 773.72 114.54 773.16 114.70 772.54 C114.87 771.93 115.03 771.31 115.20 770.69 C115.38 770.07 115.54 769.42 115.75 768.81 C115.96 768.20 116.20 767.57 116.47 767.02 C116.75 766.46 117.02 766.13 117.39 765.46 C117.77 764.79 118.31 763.84 118.71 762.98 C119.11 762.12 119.47 761.44 119.80 760.29 C120.13 759.15 120.38 757.65 120.68 756.11 C120.97 754.57 121.26 752.77 121.55 751.03 C121.84 749.29 122.14 747.44 122.43 745.65 C122.72 743.86 123.03 742.02 123.30 740.27 C123.57 738.53 123.77 737.04 124.05 735.19 C124.32 733.35 124.64 731.21 124.94 729.22 C125.25 727.22 125.55 725.13 125.86 723.24 C126.17 721.35 126.50 719.75 126.80 717.86 C127.11 715.97 127.39 713.88 127.68 711.89 C127.97 709.89 128.26 707.50 128.56 705.91 C128.85 704.32 129.12 702.84 129.43 702.32 C129.74 701.81 130.18 702.09 130.44 702.83 C130.69 703.58 130.78 705.25 130.96 706.81 C131.15 708.37 131.35 710.09 131.53 712.18 C131.71 714.28 131.88 717.09 132.06 719.36 C132.24 721.62 132.44 723.71 132.63 725.78 C132.81 727.85 132.95 729.69 133.15 731.76 C133.35 733.82 133.60 736.43 133.81 738.18 C134.02 739.93 134.14 740.96 134.40 742.24 C134.65 743.53 135.00 744.66 135.34 745.89 C135.68 747.12 136.12 748.74 136.43 749.63 C136.75 750.51 136.88 750.94 137.22 751.21 C137.56 751.47 138.13 751.47 138.47 751.21 C138.81 750.94 139.04 750.20 139.28 749.63 C139.52 749.05 139.71 748.33 139.94 747.74 C140.17 747.16 140.34 746.50 140.66 746.10 C140.98 745.70 141.55 745.18 141.86 745.35 C142.18 745.53 142.37 746.52 142.56 747.15 C142.75 747.77 142.85 748.46 143.00 749.09 C143.15 749.71 143.34 750.26 143.48 750.88 C143.63 751.50 143.74 752.18 143.88 752.82 C144.01 753.46 144.14 754.11 144.27 754.73 C144.40 755.36 144.53 755.93 144.64 756.56 C144.76 757.19 144.84 757.86 144.97 758.50 C145.11 759.14 145.27 759.79 145.45 760.41 C145.63 761.03 145.83 761.61 146.06 762.20 C146.30 762.80 146.58 763.43 146.87 763.97 C147.17 764.51 147.49 764.95 147.82 765.46 C148.14 765.97 148.53 766.50 148.80 767.05 C149.07 767.59 149.22 768.13 149.44 768.75 C149.65 769.37 149.90 770.12 150.07 770.75 C150.24 771.38 150.34 771.94 150.46 772.54 C150.59 773.15 150.72 773.75 150.84 774.40 C150.95 775.04 151.05 775.78 151.16 776.43 C151.28 777.08 151.40 777.66 151.54 778.31 C151.67 778.96 151.83 779.68 151.97 780.31 C152.12 780.95 152.27 781.49 152.41 782.11 C152.56 782.72 152.70 783.39 152.85 784.02 C153.00 784.65 153.17 785.24 153.33 785.87 C153.50 786.50 153.67 787.17 153.83 787.78 C154.00 788.40 154.13 788.98 154.29 789.58 C154.46 790.17 154.66 790.82 154.82 791.37 C154.98 791.92 154.86 792.51 155.26 792.86 C155.66 793.21 155.07 793.31 157.23 793.46 C159.38 793.61 164.52 793.71 168.17 793.76 C171.82 793.81 175.47 793.81 179.11 793.76 C182.76 793.71 186.41 793.58 190.06 793.46 C193.70 793.34 197.24 793.11 201.00 793.01 C204.76 792.91 210.67 792.89 212.60 792.86" stroke="#000" stroke-width="2.0" fill="none" stroke-linecap="round" stroke-linejoin="round" stroke-dasharray="0 3.0"/>
<path d="M58.41 794.36 C58.68 794.01 59.49 792.84 60.05 792.26 C60.62 791.69 61.33 790.97 61.80 790.92 C62.28 790.87 62.53 791.62 62.90 791.97 C63.26 792.31 63.26 792.69 63.99 793.01 C64.72 793.33 66.30 793.65 67.27 793.88 C68.25 794.10 68.48 794.24 69.83 794.36 C71.18 794.48 73.94 794.56 75.37 794.60 C76.81 794.64 77.66 794.63 78.44 794.60 C79.21 794.56 79.43 794.53 80.01 794.39 C80.60 794.25 81.31 793.99 81.94 793.76 C82.56 793.53 83.24 793.31 83.75 793.01 C84.26 792.71 84.58 792.36 85.00 791.97 C85.42 791.57 85.94 791.12 86.27 790.62 C86.60 790.12 86.76 789.55 86.97 788.98 C87.18 788.41 87.31 788.18 87.52 787.19 C87.73 786.19 87.93 784.77 88.22 783.00 C88.50 781.23 88.83 779.04 89.23 776.58 C89.62 774.12 90.13 770.79 90.58 768.24 C91.03 765.70 91.54 763.08 91.94 761.31 C92.34 759.54 92.63 758.44 92.97 757.60 C93.31 756.77 93.66 756.41 93.98 756.29 C94.29 756.17 94.54 756.36 94.83 756.89 C95.11 757.41 95.37 758.10 95.68 759.46 C95.99 760.81 96.35 763.09 96.69 765.01 C97.03 766.94 97.41 769.09 97.72 771.02 C98.03 772.95 98.30 774.88 98.55 776.58 C98.80 778.28 99.04 779.64 99.23 781.21 C99.41 782.78 99.51 784.67 99.67 785.99 C99.83 787.31 99.97 788.38 100.19 789.13 C100.41 789.87 100.68 790.12 100.98 790.47 C101.28 790.82 101.55 791.17 101.99 791.22 C102.42 791.27 103.13 790.86 103.61 790.77 C104.08 790.68 104.44 790.61 104.81 790.68 C105.18 790.76 105.33 790.90 105.84 791.22 C106.35 791.54 107.30 792.45 107.87 792.62 C108.45 792.80 108.78 792.35 109.30 792.26 C109.81 792.18 110.43 792.09 110.96 792.09 C111.49 792.09 111.85 792.09 112.49 792.26 C113.13 792.44 114.00 792.90 114.81 793.16 C115.62 793.43 116.30 793.65 117.37 793.85 C118.44 794.05 120.24 794.30 121.22 794.36 C122.21 794.42 122.53 794.14 123.30 794.21 C124.08 794.27 125.24 794.75 125.86 794.75 C126.48 794.75 126.68 794.41 127.02 794.21 C127.37 794.00 127.59 793.79 127.92 793.52 C128.25 793.25 128.61 792.80 128.99 792.56 C129.38 792.33 129.76 792.10 130.22 792.12 C130.68 792.13 131.21 792.36 131.77 792.65 C132.33 792.95 132.97 793.67 133.57 793.88 C134.17 794.08 134.68 794.03 135.36 793.88 C136.04 793.73 136.68 793.10 137.66 792.98 C138.64 792.86 140.22 793.22 141.25 793.16 C142.28 793.11 143.10 792.80 143.83 792.65 C144.56 792.51 144.99 792.24 145.63 792.29 C146.27 792.35 147.01 792.69 147.66 792.98 C148.32 793.28 148.85 794.05 149.57 794.06 C150.29 794.06 151.06 793.24 151.97 793.01 C152.89 792.79 154.09 792.64 155.04 792.71 C155.99 792.79 156.79 793.39 157.66 793.46 C158.54 793.53 159.34 793.21 160.29 793.16 C161.24 793.11 162.19 793.06 163.36 793.16 C164.52 793.26 166.13 793.63 167.29 793.76 C168.46 793.88 169.30 793.96 170.36 793.91 C171.42 793.86 172.73 793.46 173.64 793.46 C174.55 793.46 174.96 794.01 175.83 793.91 C176.71 793.81 178.02 793.09 178.89 792.86 C179.77 792.64 180.35 792.51 181.08 792.56 C181.81 792.61 182.54 792.96 183.27 793.16 C184.00 793.36 184.40 793.61 185.46 793.76 C186.52 793.91 188.56 793.98 189.62 794.06 C190.68 794.13 191.08 794.31 191.81 794.21 C192.54 794.11 193.38 793.56 194.00 793.46 C194.62 793.36 194.91 793.53 195.53 793.61 C196.15 793.68 197.02 793.81 197.72 793.91 C198.41 794.01 198.99 794.18 199.69 794.21 C200.38 794.23 201.15 794.13 201.88 794.06 C202.61 793.98 203.01 793.81 204.06 793.76 C205.12 793.71 206.80 793.78 208.22 793.76 C209.65 793.73 211.87 793.63 212.60 793.61" stroke="#000" stroke-width="3.0" fill="none" stroke-linejoin="round" stroke-linecap="round"/>
<g fill="none" stroke-linejoin="round">
<path d="M209.0 795.0 L211.0 794.0 L213.0 793.0 L215.0 786.5 L217.0 780.0 L219.0 769.0 L221.0 758.0 L222.5 754.0 L224.0 750.0 L225.5 755.0 L227.0 758.6 L228.5 761.2 L230.0 763.5 L232.0 758.4 L234.0 753.7 L236.0 759.4 L238.0 764.8 L240.0 767.7 L242.0 770.1 L243.7 770.2 L245.3 772.6 L247.0 772.2 L248.7 770.4 L250.3 771.3 L252.0 777.1 L253.7 781.8 L255.3 781.9 L257.0 784.3 L258.7 788.2 L260.3 789.3 L262.0 788.7 L263.7 788.0 L265.3 787.4 L267.0 782.2 L268.7 776.5 L270.3 776.4 L272.0 775.2 L273.5 771.3 L275.0 767.1 L276.5 767.3 L278.0 769.4 L279.5 769.4 L281.0 766.9 L282.5 764.5 L284.0 763.4 L285.5 762.9 L287.0 763.1 L288.5 761.7 L290.0 757.4 L291.5 753.9 L293.0 754.2 L294.5 755.7 L296.0 753.5 L297.5 750.9 L299.0 751.1 L300.5 753.5 L302.0 753.8 L303.5 750.7 L305.0 750.0 L306.5 751.1 L308.0 749.0 L310.0 744.6 L312.0 747.6 L313.5 758.0 L315.0 762.5 L317.0 768.1 L318.5 740.0 L320.0 680.0 L321.5 630.0 L322.5 612.0 L324.0 620.0 L326.7 645.0 L328.4 655.0 L330.0 665.0 L331.5 664.0 L333.0 663.0 L334.5 667.5 L336.0 672.0 L337.5 681.0 L339.0 690.0 L340.5 697.5 L342.0 705.0 L344.0 712.0 L346.0 690.0 L348.0 660.0 L350.0 648.0 L352.0 655.0 L353.5 672.5 L355.0 690.0 L356.5 708.4 L358.0 723.4 L360.0 732.6 L362.0 745.2 L364.0 746.4 L366.0 747.7 L367.5 754.2 L369.0 760.9 L370.5 766.2 L372.0 770.6 L374.0 766.5 L376.0 763.9 L378.0 769.9 L380.0 772.8 L382.0 768.6 L384.0 768.2 L386.0 764.4 L388.0 759.4 L390.0 758.9 L392.0 754.7 L394.0 748.9 L396.0 750.1 L398.0 736.3 L400.0 716.4 L402.0 689.2 L403.5 670.4 L405.0 687.3 L407.0 677.4 L409.4 631.9 L411.5 646.5 L414.0 689.9 L415.5 711.8 L417.0 734.1 L418.5 748.7 L420.0 764.1 L421.5 752.6 L423.0 739.4 L424.5 715.0 L426.0 690.0 L427.5 665.0 L429.0 640.0 L431.0 620.0 L433.0 660.0 L435.0 720.0 L437.0 770.0 L438.5 796.0" stroke="#5a5a5a" stroke-width="2.8"/>
<path d="M209.0 795.0 L211.0 794.0 L213.0 793.0 L214.5 787.5 L216.0 782.0 L218.0 771.0 L220.0 760.0 L221.5 754.0 L223.0 748.0 L224.5 751.5 L226.0 753.6 L227.5 756.1 L229.0 758.5 L231.0 754.9 L233.0 751.6 L235.0 754.5 L237.0 755.0 L239.0 763.9 L241.0 774.1 L242.7 773.0 L244.3 770.6 L246.0 773.5 L247.7 775.7 L249.3 774.8 L251.0 771.6 L252.7 773.9 L254.3 776.0 L256.0 777.7 L257.7 783.6 L259.3 791.3 L261.0 794.7 L262.7 788.9 L264.3 786.7 L266.0 790.3 L267.7 789.3 L269.3 783.3 L271.0 776.8 L272.7 774.5 L274.3 772.4 L276.0 770.4 L277.5 771.1 L279.0 771.4 L280.5 768.1 L282.0 763.0 L283.5 761.6 L285.0 764.7 L286.5 766.6 L288.0 763.8 L289.5 758.9 L291.0 757.0 L292.5 757.2 L294.0 756.3 L295.5 756.4 L297.0 757.5 L298.5 758.4 L300.0 756.8 L301.5 753.1 L303.0 752.7 L304.5 755.1 L306.0 755.0 L307.7 750.7 L309.3 747.5 L311.0 748.6 L312.5 755.8 L314.0 760.4 L316.0 771.8 L318.0 745.0 L319.5 722.5 L321.0 700.0 L322.5 682.5 L324.0 665.0 L325.5 660.0 L327.0 655.0 L328.5 658.5 L330.0 662.0 L331.5 666.0 L333.0 670.0 L334.5 675.0 L336.0 680.0 L337.5 686.0 L339.0 692.0 L340.5 696.0 L342.0 700.0 L343.5 697.5 L345.0 695.0 L346.5 682.5 L348.0 670.0 L350.0 660.0 L351.5 666.0 L353.0 672.0 L354.5 688.5 L356.0 705.0 L358.0 719.6 L360.0 730.8 L362.0 737.1 L364.0 746.7 L365.5 749.6 L367.0 751.8 L368.5 750.0 L370.0 748.0 L372.0 752.2 L374.0 760.0 L376.0 759.3 L378.0 751.7 L380.0 753.3 L382.0 762.5 L384.0 771.4 L386.0 774.9 L388.0 765.3 L390.0 757.1 L392.0 762.3 L394.0 770.2 L396.0 757.0 L398.0 738.7 L399.5 722.4 L401.0 710.8 L402.5 708.9 L404.0 702.1 L406.0 717.7 L407.5 728.0 L409.0 739.6 L410.5 737.9 L412.0 736.0 L413.5 742.0 L415.0 746.2 L416.5 740.4 L418.0 736.3 L419.5 731.9 L421.0 728.7 L422.5 718.3 L424.0 704.0 L425.5 682.5 L427.0 660.0 L428.5 642.5 L430.0 625.0 L432.0 640.0 L434.0 700.0 L436.0 760.0 L438.0 796.0" stroke="#111" stroke-width="1.4"/>
<path d="M209.0 795.0 L211.0 793.5 L213.0 792.0 L215.0 783.5 L217.0 775.0 L219.0 761.5 L221.0 748.0 L223.5 738.0 L226.0 745.2 L227.5 748.4 L229.0 751.3 L231.0 752.6 L233.0 754.1 L235.0 759.9 L237.0 767.0 L239.0 771.3 L241.0 773.6 L243.0 774.6 L245.0 778.3 L247.0 775.7 L249.0 770.5 L251.0 770.7 L253.0 772.5 L255.0 779.1 L257.0 784.8 L258.7 786.5 L260.3 788.9 L262.0 791.0 L263.7 786.8 L265.3 782.1 L267.0 778.6 L268.7 776.2 L270.3 773.7 L272.0 769.2 L273.5 766.1 L275.0 763.5 L276.5 762.4 L278.0 762.3 L279.5 762.6 L281.0 761.7 L282.5 760.2 L284.0 759.3 L285.5 757.8 L287.0 756.4 L288.5 754.3 L290.0 751.5 L291.7 750.0 L293.3 749.6 L295.0 749.1 L296.5 749.7 L298.0 749.4 L299.5 749.7 L301.0 751.3 L302.7 751.1 L304.3 749.9 L306.0 747.1 L307.7 745.0 L309.3 744.3 L311.0 744.5 L312.5 748.9 L314.0 752.2 L316.0 765.5 L318.0 735.0 L319.5 712.5 L321.0 690.0 L323.0 672.5 L325.0 655.0 L326.5 647.5 L328.0 640.0 L329.5 645.0 L331.0 650.0 L332.5 652.5 L334.0 655.0 L335.5 665.0 L337.0 675.0 L338.5 682.5 L340.0 690.0 L341.5 697.5 L343.0 705.0 L345.0 712.0 L347.0 680.0 L349.0 655.0 L351.0 650.0 L353.0 665.0 L354.5 682.5 L356.0 700.0 L357.5 713.4 L359.0 727.5 L361.0 735.2 L363.0 742.6 L365.0 744.8 L367.0 747.9 L368.5 759.4 L370.0 770.4 L371.5 774.1 L373.0 777.9 L375.0 769.3 L377.0 761.5 L379.0 768.4 L381.0 773.7 L383.0 770.9 L385.0 770.5 L387.0 766.7 L389.0 760.3 L391.0 768.4 L393.0 778.4 L395.0 774.8 L397.0 770.2 L399.0 755.1 L401.0 740.7 L402.5 723.0 L404.0 704.5 L406.0 698.4 L408.0 719.7 L409.5 726.5 L411.0 732.1 L412.5 736.8 L414.0 740.7 L415.5 733.7 L417.0 728.8 L418.5 725.8 L420.0 721.8 L421.5 711.3 L423.0 699.9 L424.5 685.0 L426.0 670.0 L428.0 630.0 L430.0 612.0 L432.0 625.0 L434.0 690.0 L436.0 760.0 L438.0 796.0" stroke="#000" stroke-width="2.2" stroke-dasharray="7 3"/>
<path d="M209.0 795.0 L211.0 794.0 L213.0 793.0 L215.0 785.5 L217.0 778.0 L218.5 765.0 L220.0 752.0 L222.9 733.0 L224.7 721.5 L227.0 735.6 L229.0 741.7 L230.5 745.3 L232.0 748.4 L234.0 751.3 L236.0 754.2 L238.0 762.8 L240.0 769.1 L242.0 768.4 L244.0 768.7 L246.0 767.6 L248.0 766.8 L250.0 772.6 L252.0 777.7 L254.0 778.9 L256.0 780.8 L257.7 784.0 L259.3 787.0 L261.0 788.1 L262.7 785.9 L264.3 784.9 L266.0 782.9 L267.7 778.1 L269.3 774.3 L271.0 772.1 L272.7 770.7 L274.3 768.4 L276.0 767.9 L277.5 768.9 L279.0 768.1 L280.5 764.9 L282.0 761.8 L283.5 760.6 L285.0 760.6 L286.5 760.1 L288.0 759.0 L289.7 757.8 L291.3 755.5 L293.0 750.7 L294.5 748.1 L296.0 748.8 L297.5 751.6 L299.0 752.9 L300.5 751.9 L302.0 750.1 L303.5 749.3 L305.0 748.8 L306.5 747.7 L308.0 747.7 L309.5 749.4 L311.0 750.7 L312.5 753.7 L314.0 755.2 L316.0 774.2 L318.0 750.0 L320.0 700.0 L321.5 677.5 L323.0 655.0 L325.0 640.0 L327.0 625.0 L328.5 620.0 L330.0 615.0 L331.5 620.0 L333.0 625.0 L334.5 635.0 L336.0 645.0 L337.5 657.5 L339.0 670.0 L341.0 695.0 L343.0 718.0 L344.0 730.0 L346.0 710.0 L348.0 670.0 L350.0 645.0 L352.0 648.0 L353.5 666.5 L355.0 685.0 L356.5 702.4 L358.0 721.2 L360.0 730.9 L362.0 740.2 L364.0 745.4 L366.0 750.0 L367.5 746.9 L369.0 745.7 L370.5 752.5 L372.0 756.6 L374.0 748.8 L376.0 744.3 L378.0 752.7 L380.0 759.2 L382.0 765.0 L384.0 771.3 L386.0 760.1 L388.0 749.6 L390.0 757.8 L392.0 763.9 L394.0 758.5 L396.0 756.6 L398.0 744.9 L400.0 729.4 L401.5 713.2 L403.0 698.5 L404.5 694.1 L406.0 689.7 L407.5 696.1 L409.0 702.8 L410.5 677.1 L412.0 649.0 L414.0 676.6 L415.5 688.5 L417.0 701.2 L418.5 679.9 L420.0 657.3 L421.5 673.7 L423.0 690.1 L424.5 695.0 L426.0 700.0 L428.0 640.0 L430.0 610.0 L432.0 620.0 L434.0 690.0 L436.0 750.0 L438.0 796.0" stroke="#000" stroke-width="2.2" stroke-dasharray="4 3"/>
<path d="M209.0 795.0 L210.7 794.3 L212.3 793.7 L214.0 793.0 L216.0 787.5 L218.0 782.0 L220.0 771.0 L222.0 760.0 L224.0 746.0 L226.0 732.9 L228.0 722.7 L230.0 715.0 L231.5 721.7 L233.0 727.9 L235.0 736.1 L237.0 741.8 L239.0 748.5 L241.0 758.9 L242.5 761.5 L244.0 763.9 L246.0 775.2 L248.0 778.0 L250.0 777.1 L251.5 780.1 L253.0 782.2 L254.5 782.4 L256.0 784.5 L257.5 785.6 L259.0 783.6 L260.5 783.6 L262.0 788.0 L263.5 788.0 L265.0 782.9 L266.5 781.8 L268.0 785.9 L269.5 785.8 L271.0 781.6 L272.7 780.8 L274.3 782.0 L276.0 779.7 L277.8 779.9 L279.5 780.4 L281.2 776.9 L283.0 778.2 L285.0 778.9 L287.0 770.4 L289.0 763.2 L291.0 762.0 L292.7 757.2 L294.3 756.1 L296.0 758.1 L297.7 756.9 L299.3 756.8 L301.0 758.3 L302.5 755.8 L304.0 754.4 L305.6 758.1 L307.1 759.0 L308.6 754.0 L311.0 756.8 L313.0 762.3 L315.0 760.9 L317.0 766.0 L319.0 770.0 L320.0 740.0 L322.0 690.0 L323.5 665.0 L325.0 640.0 L326.5 627.5 L328.0 615.0 L330.0 608.0 L332.0 618.0 L333.5 629.0 L335.0 640.0 L336.5 652.5 L338.0 665.0 L339.5 682.5 L341.0 700.0 L343.0 716.0 L345.0 700.0 L347.0 665.0 L349.0 638.0 L351.0 635.0 L353.0 650.0 L355.0 680.0 L356.5 699.0 L358.0 714.7 L360.0 724.2 L362.0 736.1 L364.0 739.8 L366.0 745.7 L368.0 749.1 L370.0 754.1 L372.0 762.6 L374.0 763.6 L376.0 766.8 L378.0 774.7 L380.0 770.4 L382.0 768.7 L384.0 765.9 L386.0 760.1 L388.0 765.4 L390.0 768.9 L392.0 772.2 L394.0 777.2 L396.0 765.9 L398.0 758.8 L399.5 742.1 L401.0 721.4 L403.0 688.2 L405.0 700.0 L406.5 690.9 L408.0 680.4 L410.0 700.0 L412.0 738.9 L413.5 729.6 L415.0 721.6 L416.5 711.1 L418.0 698.4 L419.5 703.4 L421.0 711.2 L422.5 701.8 L424.0 689.5 L425.5 665.0 L427.0 640.0 L429.0 610.0 L431.0 600.0 L433.0 640.0 L435.0 710.0 L437.0 770.0 L438.5 796.0" stroke="#000" stroke-width="2.0" stroke-dasharray="1.6 1.6"/>
<path d="M209.0 795.0 L210.5 794.5 L212.0 794.0 L213.5 791.0 L215.0 788.0 L216.5 779.0 L218.0 770.0 L219.5 761.0 L221.0 752.0 L223.5 740.0 L226.0 748.7 L227.5 750.5 L229.0 752.8 L230.5 750.1 L232.0 746.9 L234.0 750.0 L236.0 755.3 L237.5 762.5 L239.0 767.0 L240.5 768.7 L242.0 774.0 L243.5 775.5 L245.0 773.1 L247.0 764.7 L249.0 762.1 L251.0 765.1 L253.0 764.3 L254.5 770.7 L256.0 778.4 L257.5 785.2 L259.0 791.4 L260.7 792.9 L262.3 794.5 L264.0 793.5 L265.5 788.7 L267.0 787.0 L268.5 782.6 L270.0 774.8 L272.0 766.8 L274.0 764.3 L275.5 764.2 L277.0 760.8 L278.5 757.3 L280.0 756.4 L281.5 757.0 L283.0 755.4 L284.5 753.2 L286.0 752.9 L287.7 751.3 L289.3 747.3 L291.0 743.8 L292.7 744.7 L294.3 744.5 L296.0 741.1 L298.0 743.7 L300.0 749.7 L302.0 746.7 L304.0 743.4 L305.9 743.8 L307.8 741.9 L309.7 737.8 L311.4 740.2 L313.0 743.1 L315.0 757.7 L316.5 769.5 L318.0 742.0 L319.5 711.0 L321.0 680.0 L323.0 652.5 L325.0 625.0 L326.5 615.5 L328.0 606.0 L330.0 602.5 L332.5 610.0 L335.0 628.0 L336.5 639.0 L338.0 650.0 L340.0 665.0 L342.5 698.0 L344.0 715.0 L345.5 700.0 L346.7 662.0 L348.3 640.0 L349.7 628.0 L351.5 638.0 L353.3 662.0 L355.0 678.5 L356.7 695.9 L359.0 721.5 L360.5 729.0 L362.0 738.4 L364.0 743.2 L366.0 743.7 L368.0 739.3 L369.5 751.2 L371.0 760.8 L372.5 766.7 L374.0 774.5 L376.0 758.2 L378.0 739.3 L379.5 753.4 L381.0 769.1 L383.0 773.5 L385.0 776.0 L387.0 758.6 L389.0 740.0 L391.0 754.9 L393.0 773.9 L395.0 771.9 L397.0 765.0 L398.5 751.2 L400.0 739.7 L401.5 720.6 L403.0 699.9 L405.0 680.0 L407.0 701.0 L408.5 719.5 L410.0 738.2 L411.5 738.9 L413.0 740.3 L414.5 732.7 L416.0 723.0 L417.5 727.8 L419.0 735.9 L420.5 729.9 L422.0 720.2 L423.5 698.2 L425.0 680.0 L427.0 630.0 L429.0 600.0 L430.5 593.0 L432.0 605.0 L434.0 660.0 L436.0 730.0 L437.5 780.0 L438.5 796.0" stroke="#000" stroke-width="3.0"/>
</g>
<rect x="65.6" y="535.4" width="216.8" height="107.8" fill="#fff" stroke="#888" stroke-width="1"/>
<text x="102.0" y="549.5" font-size="11.8" font-weight="normal" textLength="163.1" lengthAdjust="spacingAndGlyphs" class="slg" fill="#222">#Sample 1 (PTFE binder/Carbon=0.1)</text>
<text x="102.0" y="567.2" font-size="11.8" font-weight="normal" textLength="163.1" lengthAdjust="spacingAndGlyphs" class="slg" fill="#222">#Sample 2 (PTFE binder/Carbon=0.3)</text>
<text x="102.0" y="585.1" font-size="11.8" font-weight="normal" textLength="163.1" lengthAdjust="spacingAndGlyphs" class="slg" fill="#222">#Sample 3 (PTFE binder/Carbon=0.5)</text>
<text x="102.0" y="602.8" font-size="11.8" font-weight="normal" textLength="163.1" lengthAdjust="spacingAndGlyphs" class="slg" fill="#222">#Sample 4 (PTFE binder/Carbon=0.7)</text>
<text x="102.0" y="620.8" font-size="11.8" font-weight="normal" textLength="163.1" lengthAdjust="spacingAndGlyphs" class="slg" fill="#222">#Sample 5 (PTFE binder/Carbon=0.9)</text>
<text x="102.0" y="638.8" font-size="11.8" font-weight="normal" textLength="163.1" lengthAdjust="spacingAndGlyphs" class="slg" fill="#222">#Sample 6 (PTFE binder/Carbon=1.0)</text>
<path d="M83 545.5 H101" stroke="#000" stroke-width="1.2" stroke-dasharray="1.6 1.6"/>
<path d="M83 563.2 H90 M96 563.2 H101" stroke="#000" stroke-width="1.8"/>
<path d="M83 581.1 H98" stroke="#000" stroke-width="1.8"/>
<path d="M83 598.8 H101" stroke="#333" stroke-width="1"/>
<path d="M83 616.8 H101" stroke="#000" stroke-width="2.4"/>
<path d="M83 634.8 H101" stroke="#444" stroke-width="2.4"/>
<rect x="58.5" y="673.4" width="150.8" height="119" fill="none" stroke="#ff2020" stroke-width="1.8" stroke-dasharray="4 2.5"/>
<path d="M298.5 45.8 L58.5 673.4" stroke="#ff2a2a" stroke-width="1.1" stroke-dasharray="2.2 0.9"/>
<path d="M1003 473.8 L209.3 792.4" stroke="#ff2a2a" stroke-width="1.1" stroke-dasharray="2.2 0.9"/>
</svg>
</body></html>
